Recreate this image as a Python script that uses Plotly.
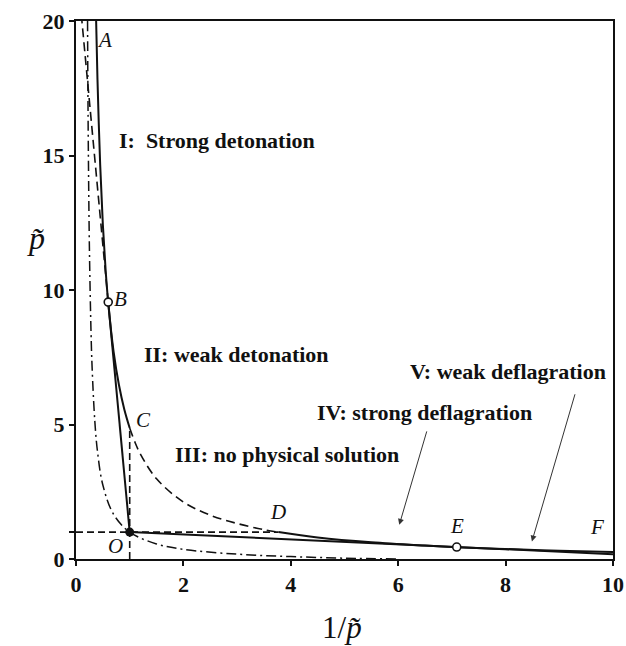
import plotly.graph_objects as go

# Hugoniot curve with heat release (specific volume 1/p~ vs pressure p~)
hug_upper_v = [0.375, 0.40, 0.45, 0.50, 0.55, 0.60, 0.70, 0.80, 0.90, 1.00]
hug_upper_p = [20.0, 17.83, 14.66, 12.43, 10.79, 9.53, 7.71, 6.47, 5.56, 4.87]
hug_mid_v = [1.00, 1.10, 1.20, 1.50, 2.00, 2.50, 3.00, 3.50, 3.77]
hug_mid_p = [4.87, 4.33, 3.90, 2.98, 2.12, 1.63, 1.32, 1.09, 1.00]
hug_lower_v = [3.77, 4.5, 5.5, 6.5, 7.1, 8.0, 9.0, 10.0]
hug_lower_p = [1.00, 0.80, 0.62, 0.50, 0.44, 0.37, 0.31, 0.26]

# Hugoniot without heat release through the initial state O
hug0_v = [0.215, 0.22, 0.23, 0.25, 0.28, 0.30, 0.35, 0.40, 0.50, 0.70, 1.0, 1.5, 2.0, 3.0, 4.0, 5.0, 6.0]
hug0_p = [20.0, 18.06, 15.19, 11.5, 8.41, 7.12, 5.14, 4.0, 2.75, 1.66, 1.0, 0.56, 0.36, 0.18, 0.09, 0.03, 0.0]

# special points
pt_O = (1.0, 1.0)
pt_B = (0.6, 9.55)
pt_E = (7.09, 0.445)

# Rayleigh lines from O: detonation line O-B (extended dashed beyond B), deflagration line O-E
ray_det_v = [pt_O[0], pt_B[0]]
ray_det_p = [pt_O[1], pt_B[1]]
ray_det_ext_v = [pt_B[0], 0.11]
ray_det_ext_p = [pt_B[1], 20.0]
ray_def_v = [pt_O[0], 10.0]
ray_def_p = [pt_O[1], 0.18]

# constant-volume and constant-pressure guides
vguide_v = [1.0, 1.0]
vguide_p = [0.0, 4.87]
hguide_v = [0.0, 3.77]
hguide_p = [1.0, 1.0]

point_labels = ["A", "B", "C", "D", "E", "F", "O"]
point_label_x = [0.53, 0.83, 1.25, 3.76, 7.10, 9.70, 0.74]
point_label_y = [19.3, 9.67, 5.15, 1.75, 1.22, 1.18, 0.50]

region_labels = ["I:  Strong detonation", "II: weak detonation", "III: no physical solution",
                 "IV: strong deflagration", "V: weak deflagration"]
region_x = [0.76, 1.22, 1.81, 4.45, 6.18]
region_y = [15.57, 7.59, 3.87, 5.43, 6.97]

xticks = [0, 2, 4, 6, 8, 10]
xticktext = ["<b>0</b>", "<b>2</b>", "<b>4</b>", "<b>6</b>", "<b>8</b>", "<b>10</b>"]
yticks = [0, 1, 5, 10, 15, 20]
yticktext = ["<b>0</b>", "", "<b>5</b>", "<b>10</b>", "<b>15</b>", "<b>20</b>"]

SERIF = "Liberation Serif, Times New Roman, serif"
INK = "#111111"

fig = go.Figure()

def line(v, p, dash="solid", width=2.0, shape="spline"):
    fig.add_trace(go.Scatter(x=v, y=p, mode="lines", line=dict(color=INK, width=width, dash=dash, shape=shape),
                             hoverinfo="skip", showlegend=False))

line(hug0_v, hug0_p, dash="10px,4px,2px,4px", width=1.5)
line(vguide_v, vguide_p, dash="7px,4px", width=1.6, shape="linear")
line(hguide_v, hguide_p, dash="7px,4px", width=1.6, shape="linear")
line(ray_det_ext_v, ray_det_ext_p, dash="9px,5px", width=1.6, shape="linear")
line(ray_det_v, ray_det_p, width=2.0, shape="linear")
line(ray_def_v, ray_def_p, width=2.0, shape="linear")
line(hug_upper_v, hug_upper_p, width=2.0)
line(hug_mid_v, hug_mid_p, dash="9px,5px", width=1.6)
line(hug_lower_v, hug_lower_p, width=2.0)

fig.add_trace(go.Scatter(x=[pt_B[0], pt_E[0]], y=[pt_B[1], pt_E[1]], mode="markers",
                         marker=dict(size=8, color="white", line=dict(color=INK, width=1.6)),
                         hoverinfo="skip", showlegend=False))
fig.add_trace(go.Scatter(x=[pt_O[0]], y=[pt_O[1]], mode="markers",
                         marker=dict(size=9, color=INK), hoverinfo="skip", showlegend=False))

annotations = []
for t, x, y in zip(point_labels, point_label_x, point_label_y):
    annotations.append(dict(x=x, y=y, xref="x", yref="y", text=f"<i>{t}</i>", showarrow=False,
                            font=dict(family=SERIF, size=21, color=INK)))
for t, x, y in zip(region_labels, region_x, region_y):
    annotations.append(dict(x=x, y=y, xref="x", yref="y", text=f"<b>{t}</b>", showarrow=False,
                            xanchor="left", yanchor="middle",
                            font=dict(family=SERIF, size=22, color=INK)))

# arrows pointing to the deflagration branches
annotations.append(dict(x=6.02, y=1.27, ax=6.54, ay=4.8, xref="x", yref="y", axref="x", ayref="y",
                        text="", showarrow=True, arrowhead=2, arrowsize=1.2, arrowwidth=1, arrowcolor="#333333"))
annotations.append(dict(x=8.49, y=0.65, ax=9.30, ay=6.18, xref="x", yref="y", axref="x", ayref="y",
                        text="", showarrow=True, arrowhead=2, arrowsize=1.2, arrowwidth=1, arrowcolor="#333333"))

# axis titles
annotations.append(dict(x=-0.075, y=0.597, xref="paper", yref="paper", text="<i>p̃</i>", showarrow=False,
                        xanchor="center", yanchor="middle",
                        font=dict(family=SERIF, size=32, color=INK)))
annotations.append(dict(x=0.495, y=-0.128, xref="paper", yref="paper", text="1/<i>p̃</i>", showarrow=False,
                        xanchor="center", yanchor="middle",
                        font=dict(family=SERIF, size=31, color=INK)))

fig.update_layout(
    width=626, height=646,
    margin=dict(l=76, r=13, t=21, b=87),
    paper_bgcolor="white", plot_bgcolor="white",
    annotations=annotations,
    xaxis=dict(range=[0, 10], tickvals=xticks, ticktext=xticktext, ticks="outside", ticklen=5, tickwidth=1.5,
               tickcolor=INK, showgrid=False, zeroline=False, showline=True, linecolor=INK, linewidth=2,
               mirror=True, automargin=False, ticklabeloverflow="allow",
               tickfont=dict(family=SERIF, size=22, color=INK)),
    yaxis=dict(range=[0, 20], tickvals=yticks, ticktext=yticktext, ticks="outside", ticklen=5, tickwidth=1.5,
               tickcolor=INK, showgrid=False, zeroline=False, showline=True, linecolor=INK, linewidth=2,
               mirror=True, automargin=False, ticklabeloverflow="allow",
               tickfont=dict(family=SERIF, size=22, color=INK)),
)

fig.write_html("out.html")
